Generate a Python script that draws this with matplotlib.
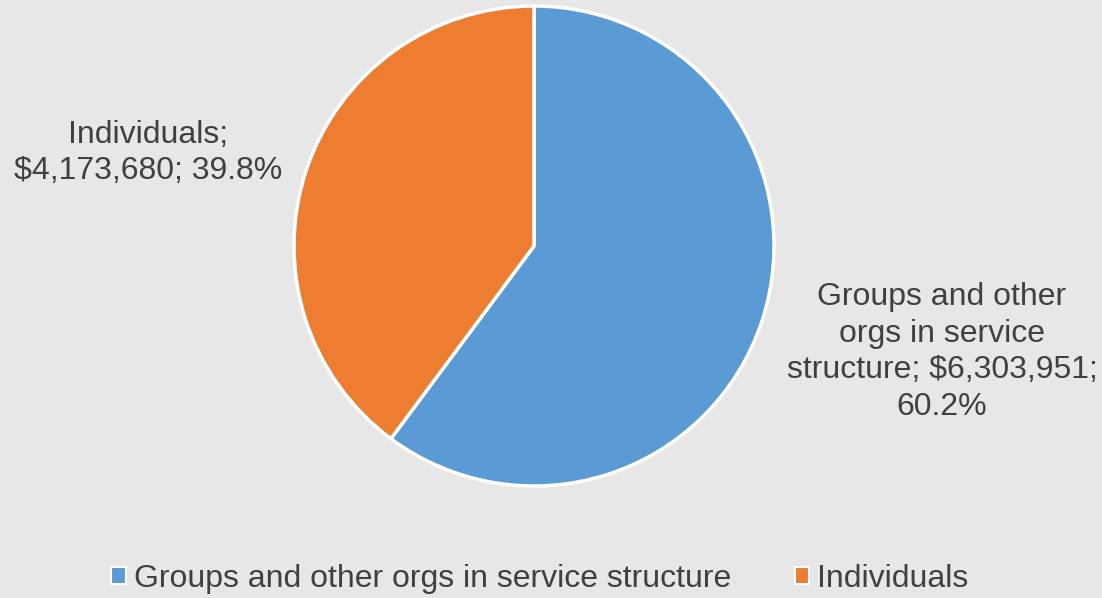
import matplotlib.pyplot as plt
from matplotlib.patches import Patch

# dane
categories = ["Groups and other orgs in service structure", "Individuals"]
amounts = [6303951, 4173680]
percents = [60.2, 39.8]
label_texts = ["Groups and other\norgs in service\nstructure; $6,303,951;\n60.2%",
               "Individuals;\n$4,173,680; 39.8%"]
colors = ["#5b9bd5", "#ed7d31"]

plt.rcParams['font.family'] = ['Liberation Sans', 'DejaVu Sans']
txt_color = "#404040"
bg = "#e8e7e7"

fig = plt.figure(figsize=(11.02, 5.98), dpi=100, facecolor=bg)
W, H = 1102, 598
cx, cy, r = 534, 246, 240
ax = fig.add_axes([(cx - r) / W, (H - cy - r) / H, 2 * r / W, 2 * r / H])
ax.set_facecolor(bg)

ax.pie(amounts, colors=colors, startangle=90, counterclock=False,
       wedgeprops=dict(edgecolor="white", linewidth=2.5))
ax.set_xlim(-1, 1)
ax.set_ylim(-1, 1)
ax.set_aspect("equal")

# etykiety danych
fig.text(942 / W, 1 - 352 / H, label_texts[0], ha="center", va="center",
         fontsize=23, color=txt_color, linespacing=1.3)
fig.text(148 / W, 1 - 153 / H, label_texts[1], ha="center", va="center",
         fontsize=23, color=txt_color, linespacing=1.3)

handles = [Patch(facecolor=c, edgecolor="white", linewidth=1.5) for c in colors]
fig.legend(handles, categories, loc="center", bbox_to_anchor=(540 / W, 1 - 579 / H),
           ncol=2, frameon=False, fontsize=23, labelcolor=txt_color,
           handlelength=0.45, handleheight=0.45, handletextpad=0.25,
           columnspacing=2.0, borderpad=0, borderaxespad=0)

fig.savefig("out.png", dpi=100, facecolor=bg)
